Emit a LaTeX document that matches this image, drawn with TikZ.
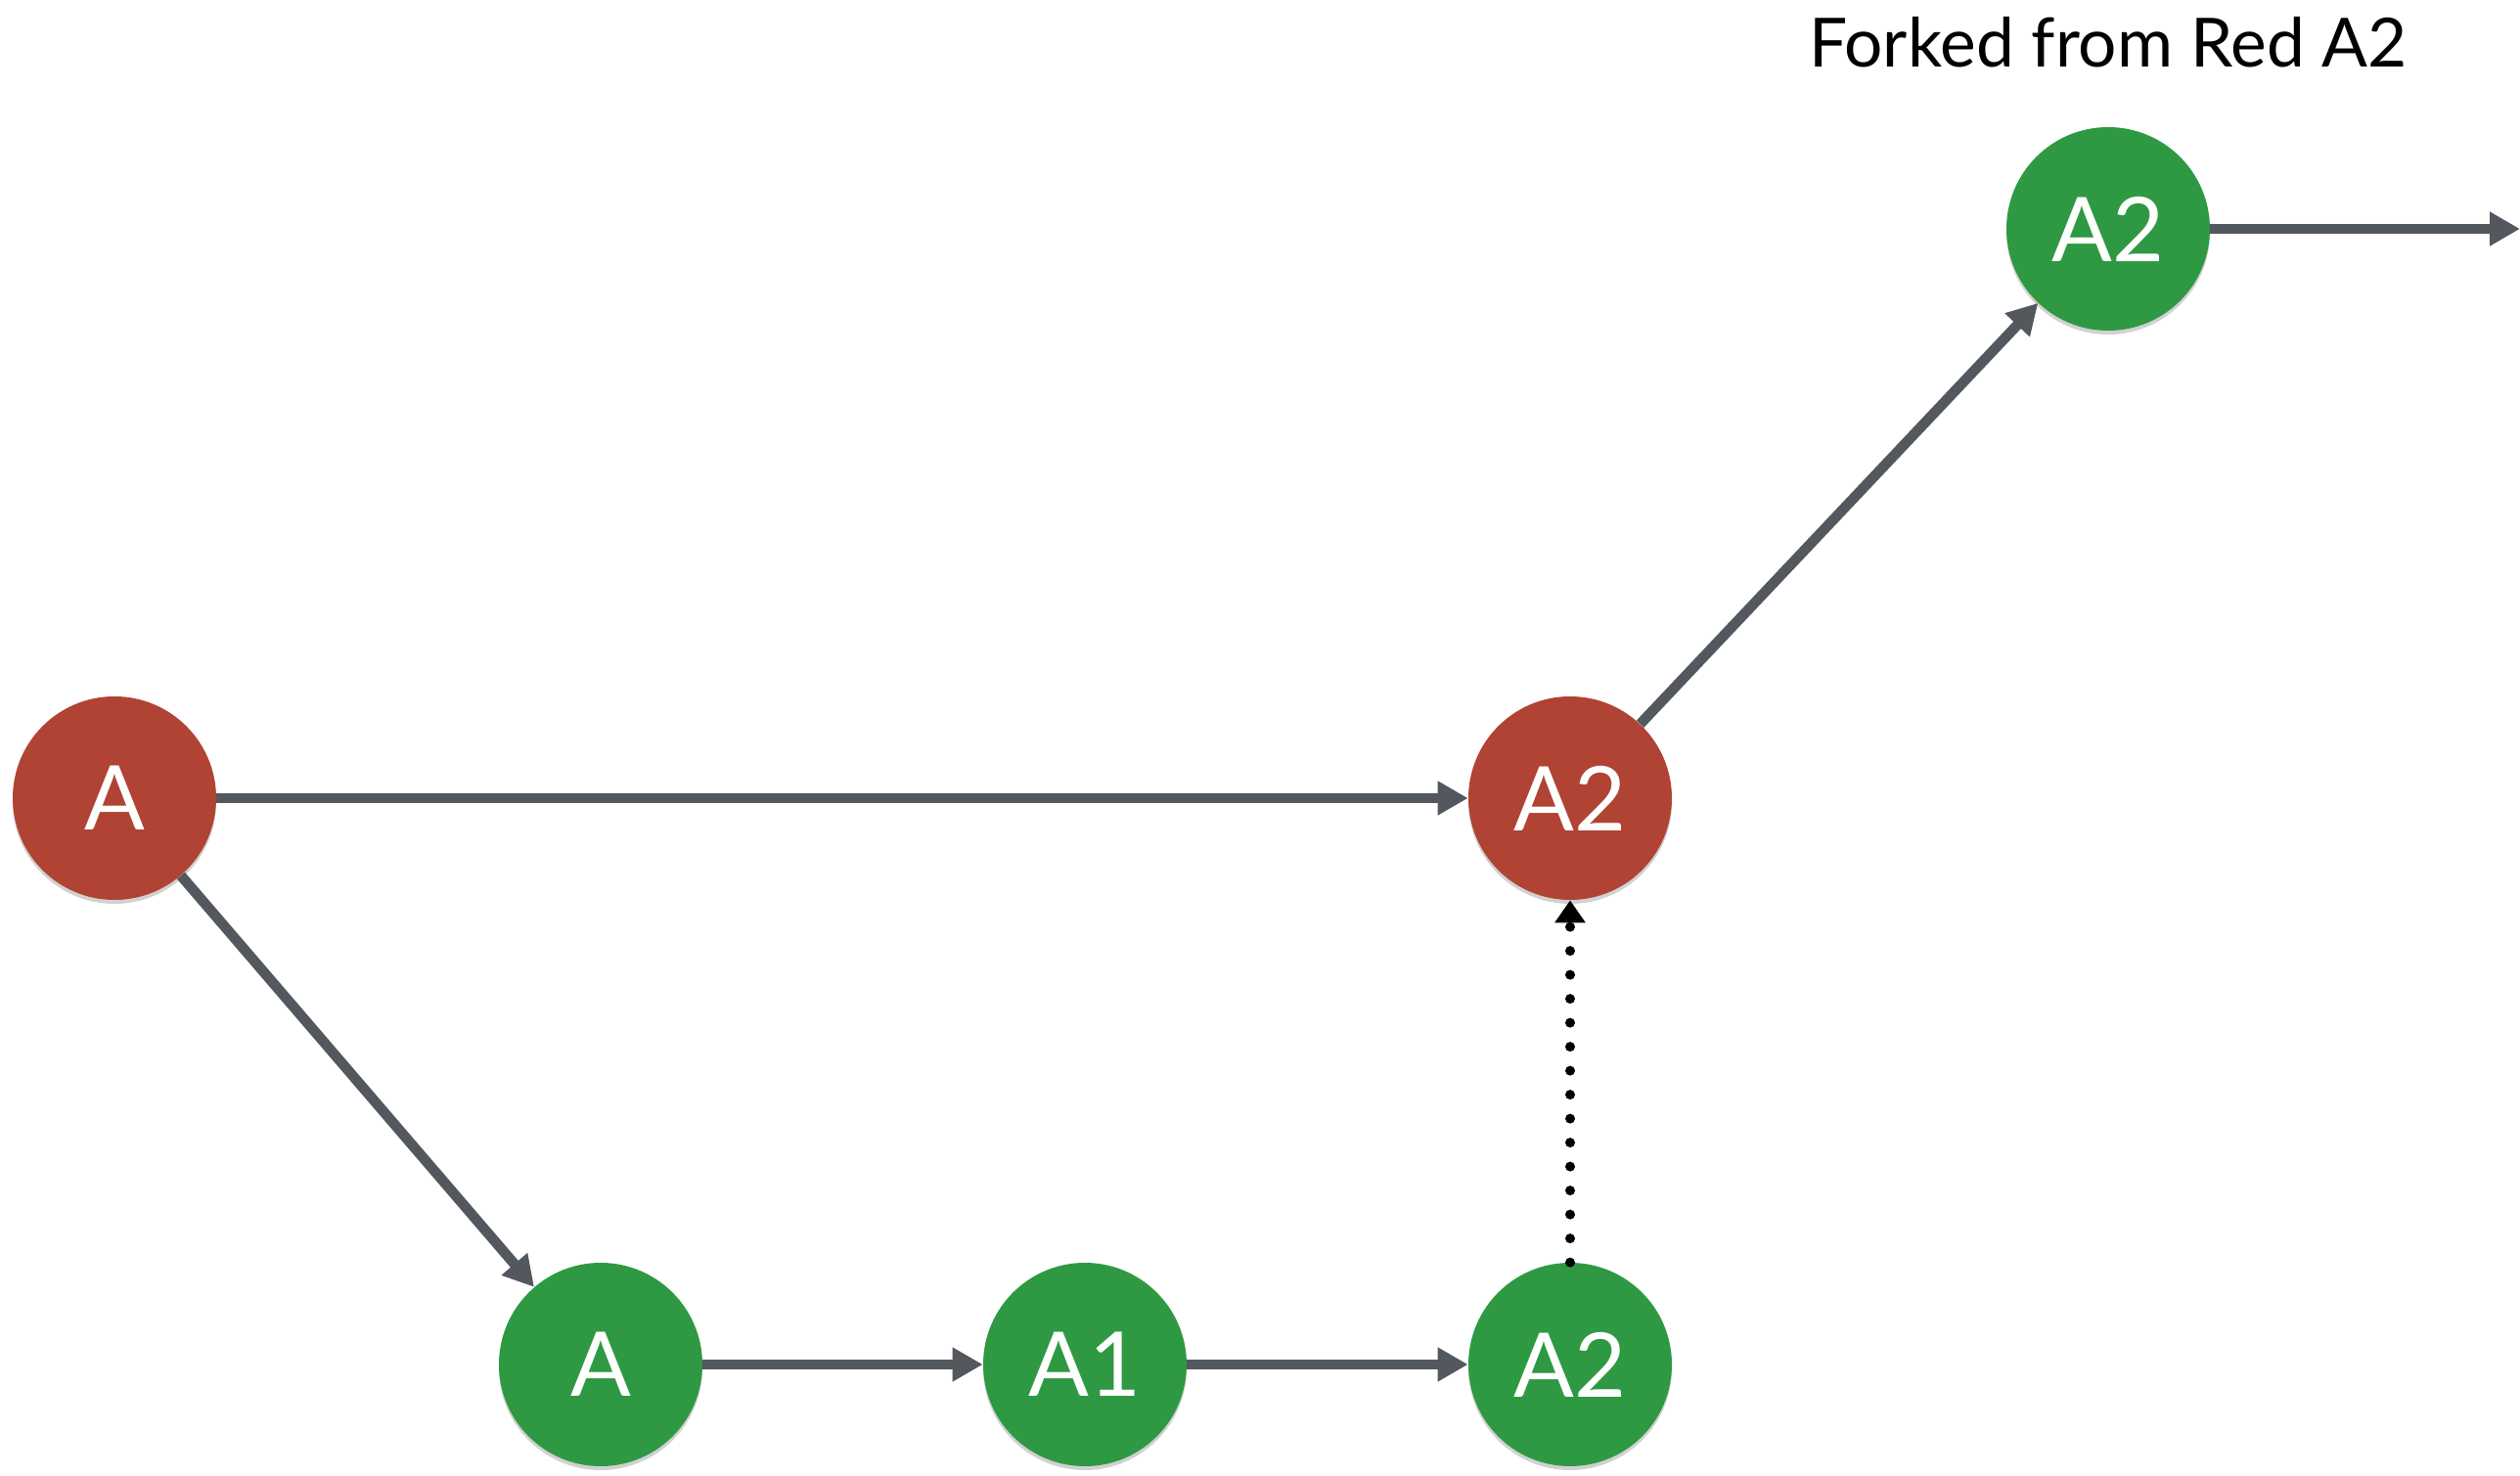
\documentclass[tikz,border=0pt]{standalone}
\usepackage{fontspec}
\setmainfont{Lato}
\usetikzlibrary{arrows.meta,shadows}
\definecolor{nodered}{RGB}{176,67,51}
\definecolor{nodegreen}{RGB}{46,153,66}
\definecolor{linegray}{RGB}{83,87,94}
\tikzset{
  commit/.style={circle,minimum size=4.16cm,inner sep=0pt,text=white,
    font=\fontsize{52}{60}\selectfont,
    drop shadow={shadow xshift=0cm,shadow yshift=-0.08cm,opacity=0.18,fill=black}},
  redc/.style={commit,fill=nodered},
  greenc/.style={commit,fill=nodegreen},
  flow/.style={draw=linegray,line width=0.21cm,
    -{Triangle[length=0.62cm,width=0.66cm]}},
  mergeline/.style={draw=black,line width=0.2cm,line cap=round,
    dash pattern=on 0pt off 0.49cm,
    -{Triangle[length=0.46cm,width=0.6cm,line cap=butt]}},
}
\begin{document}
\begin{tikzpicture}
\useasboundingbox (0,0) rectangle (51.52,30.16);
\node[redc] (rA) at (2.34,13.84) {A};
\node[redc] (rA2) at (32.10,13.84) {A2};
\node[greenc] (gTop) at (43.10,25.48) {A2};
\node[greenc] (gA) at (12.28,2.26) {A};
\node[greenc] (gA1) at (22.18,2.26) {A1};
\node[greenc] (gA2) at (32.10,2.26) {A2};
\node[font=\fontsize{39.5}{46}\selectfont,text=black] (lbl) at (43.10,29.30) {Forked from Red A2};
\coordinate (out) at (51.52,25.48);
\draw[flow] (rA) -- (rA2);
\draw[flow] (rA) -- (gA);
\draw[flow] (gA) -- (gA1);
\draw[flow] (gA1) -- (gA2);
\draw[flow] (rA2) -- (gTop);
\draw[flow] (gTop) -- (out);
\draw[mergeline] (gA2) -- (rA2);
\end{tikzpicture}
\end{document}
